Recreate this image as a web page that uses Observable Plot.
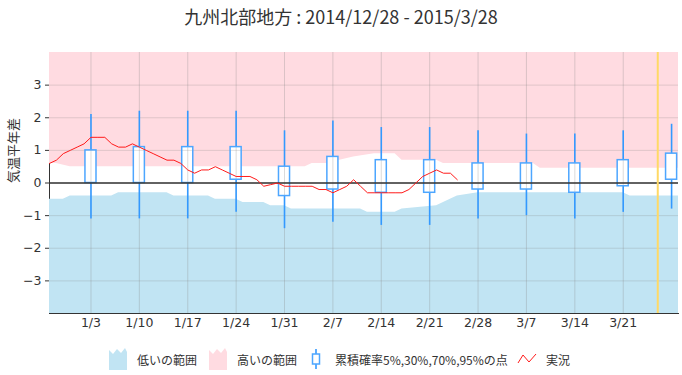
<!DOCTYPE html>
<html><head><meta charset="utf-8">
<script src="https://cdn.jsdelivr.net/npm/d3@7"></script>
<script src="https://cdn.jsdelivr.net/npm/@observablehq/plot@0.6"></script>
<style>
body{margin:0;background:#fff;font-family:"Noto Sans CJK JP","DejaVu Sans",sans-serif;color:#333;}
#wrap{position:relative;width:682px;height:375px;overflow:hidden;}
#title{height:39px;text-align:center;font-size:18px;line-height:32px;color:#333;}
#legend{position:absolute;left:0;top:340px;width:682px;height:35px;font-size:12px;}
.li{position:absolute;top:8px;height:22px;display:flex;align-items:center;}
</style></head><body>
<div id="wrap">
<div id="title">九州北部地方 : 2014/12/28 - 2015/3/28</div>
<div id="chart"></div>
<div id="legend"></div>
</div>
<script>
// ---- data ----
const titleText = "九州北部地方 : 2014/12/28 - 2015/3/28";
const yLabel = "気温平年差";
const domainStart = "2014-12-28";
const domainEnd = "2015-03-29";
const forecastMark = "2015-03-26";

// observed (実況), daily from 2014-12-28
const obsStart = "2014-12-28";
const obsValues = [0.6,0.7,0.9,1.0,1.1,1.2,1.4,1.4,1.4,1.2,
  1.1,1.1,1.2,1.1,1.0,0.9,0.8,0.7,0.7,0.6,
  0.4,0.3,0.4,0.4,0.5,0.4,0.3,0.2,0.2,0.2,
  0.1,-0.1,-0.05,0.0,-0.1,-0.1,-0.1,-0.1,-0.1,-0.2,
  -0.2,-0.3,-0.2,-0.1,0.1,-0.1,-0.3,-0.3,-0.3,-0.3,
  -0.3,-0.3,-0.2,0.0,0.2,0.3,0.4,0.3,0.3,0.1];

// upper threshold of normal range (bottom of 高い range)
const upperDates = ["2014-12-28","2014-12-29","2014-12-31","2015-02-03","2015-02-04","2015-02-07","2015-02-08","2015-02-10","2015-02-13","2015-02-16","2015-02-17","2015-02-22","2015-02-23","2015-03-08","2015-03-09","2015-03-29"];
const upperValues = [0.6,0.6,0.5,0.5,0.6,0.6,0.7,0.8,0.9,0.9,0.7,0.7,0.6,0.6,0.45,0.45];

// lower threshold of normal range (top of 低い range)
const lowerDates = ["2014-12-28","2014-12-30","2014-12-31","2015-01-06","2015-01-07","2015-01-14","2015-01-15","2015-01-20","2015-01-21","2015-01-24","2015-01-25","2015-01-28","2015-01-29","2015-01-31","2015-02-01","2015-02-11","2015-02-12","2015-02-16","2015-02-17","2015-02-22","2015-02-23","2015-02-25","2015-02-28","2015-03-21","2015-03-22","2015-03-29"];
const lowerValues = [-0.5,-0.5,-0.4,-0.4,-0.3,-0.3,-0.4,-0.4,-0.5,-0.5,-0.6,-0.6,-0.7,-0.7,-0.8,-0.8,-0.9,-0.9,-0.8,-0.7,-0.6,-0.4,-0.3,-0.3,-0.4,-0.4];

// forecast boxes (cumulative probability 5%,30%,70%,95%)
const boxDates = ["2015-01-03","2015-01-10","2015-01-17","2015-01-24","2015-01-31","2015-02-07","2015-02-14","2015-02-21","2015-02-28","2015-03-07","2015-03-14","2015-03-21","2015-03-28"];
const p05 = [-1.1,-1.1,-1.1,-0.9,-1.4,-1.2,-1.3,-1.3,-1.1,-1.0,-1.1,-0.9,-0.8];
const p30 = [0.0,0.0,0.0,0.1,-0.4,-0.2,-0.3,-0.3,-0.2,-0.2,-0.3,-0.1,0.1];
const p70 = [1.0,1.1,1.1,1.1,0.5,0.8,0.7,0.7,0.6,0.6,0.6,0.7,0.9];
const p95 = [2.1,2.2,2.2,2.2,1.6,1.9,1.7,1.7,1.6,1.5,1.5,1.6,1.8];

const xTickDates = ["2015-01-03","2015-01-10","2015-01-17","2015-01-24","2015-01-31","2015-02-07","2015-02-14","2015-02-21","2015-02-28","2015-03-07","2015-03-14","2015-03-21"];
const yTicks = [-3,-2,-1,0,1,2,3];
const yDomain = [-4,4];

const legendLabels = ["低いの範囲","高いの範囲","累積確率5%,30%,70%,95%の点","実況"];

// ---- build ----
const P = d3.utcParse("%Y-%m-%d");
const obs = obsValues.map((v,i)=>({date:d3.utcDay.offset(P(obsStart),i), v}));
const upper = upperDates.map((d,i)=>({date:P(d), v:upperValues[i]}));
const lower = lowerDates.map((d,i)=>({date:P(d), v:lowerValues[i]}));
const boxes = boxDates.map((d,i)=>({date:P(d), p05:p05[i], p30:p30[i], p70:p70[i], p95:p95[i]}));
const half = 0.8*864e5;
const xTicks = xTickDates.map(P);

const chart = Plot.plot({
  width: 682, height: 301,
  marginLeft: 49, marginRight: 4, marginTop: 13, marginBottom: 27,
  style: {fontFamily: "DejaVu Sans, sans-serif", fontSize: "12.5px", color: "#333", background: "white"},
  x: {type: "utc", domain: [P(domainStart), P(domainEnd)], ticks: xTicks, tickFormat: d3.utcFormat("%-m/%-d"), tickSize: 0, tickPadding: 5, line: true, label: null},
  y: {domain: yDomain, ticks: yTicks, tickSize: 4, tickPadding: 4, line: true, label: null},
  marks: [
    Plot.areaY(upper, {x: "date", y1: "v", y2: yDomain[1], fill: "#ffdbe1"}),
    Plot.areaY(lower, {x: "date", y1: yDomain[0], y2: "v", fill: "#c1e4f3"}),
    Plot.rect(boxes, {x1: d => new Date(+d.date - half), x2: d => new Date(+d.date + half), y1: "p30", y2: "p70", fill: "white"}),
    Plot.ruleX(xTicks, {stroke: "#888", strokeOpacity: 0.3}),
    Plot.ruleY(yTicks, {stroke: "#888", strokeOpacity: 0.25}),
    Plot.ruleX(boxes, {x: "date", y1: "p70", y2: "p95", stroke: "#3399ff", strokeWidth: 1.6}),
    Plot.ruleX(boxes, {x: "date", y1: "p05", y2: "p30", stroke: "#3399ff", strokeWidth: 1.6}),
    Plot.rect(boxes, {x1: d => new Date(+d.date - half), x2: d => new Date(+d.date + half), y1: "p30", y2: "p70", fill: "none", stroke: "#4da6ff", strokeWidth: 1.5}),
    Plot.ruleY([0], {stroke: "#333", strokeWidth: 1.5}),
    Plot.line(obs, {x: "date", y: "v", stroke: "#ff1a1a", strokeWidth: 1}),
    Plot.ruleX([P(forecastMark)], {stroke: "#ffd966", strokeWidth: 2}),
    Plot.text([yLabel], {frameAnchor: "left", rotate: -90, dx: -36, fontSize: 13, fontFamily: "Noto Sans CJK JP", fill: "#333"})
  ]
});
document.getElementById("chart").append(chart);

// ---- legend ----
const icons = [
  `<svg width="20" height="22"><path d="M1,2 L5,6 L9,1 L13,5 L17,0 L19,4 L19,22 L1,22 Z" fill="#c1e4f3"/></svg>`,
  `<svg width="20" height="22"><path d="M1,2 L5,6 L9,1 L13,5 L17,0 L19,4 L19,22 L1,22 Z" fill="#ffdbe1"/></svg>`,
  `<svg width="10" height="22"><line x1="5" y1="1" x2="5" y2="21" stroke="#3399ff" stroke-width="1.6"/><rect x="1.5" y="6" width="7" height="10" fill="white" stroke="#4da6ff" stroke-width="1.5"/></svg>`,
  `<svg width="20" height="22"><polyline points="1,15 6,7 12,14 19,6" fill="none" stroke="#ff1a1a" stroke-width="1"/></svg>`
];
const iconX = [108, 208, 311, 517];
const textX = [137, 237, 335, 546];
const leg = document.getElementById("legend");
legendLabels.forEach((t,i)=>{
  const a = document.createElement("div"); a.className="li"; a.style.left=iconX[i]+"px"; a.innerHTML=icons[i]; leg.append(a);
  const b = document.createElement("div"); b.className="li"; b.style.left=textX[i]+"px"; b.textContent=t; leg.append(b);
});
</script>
</body></html>
